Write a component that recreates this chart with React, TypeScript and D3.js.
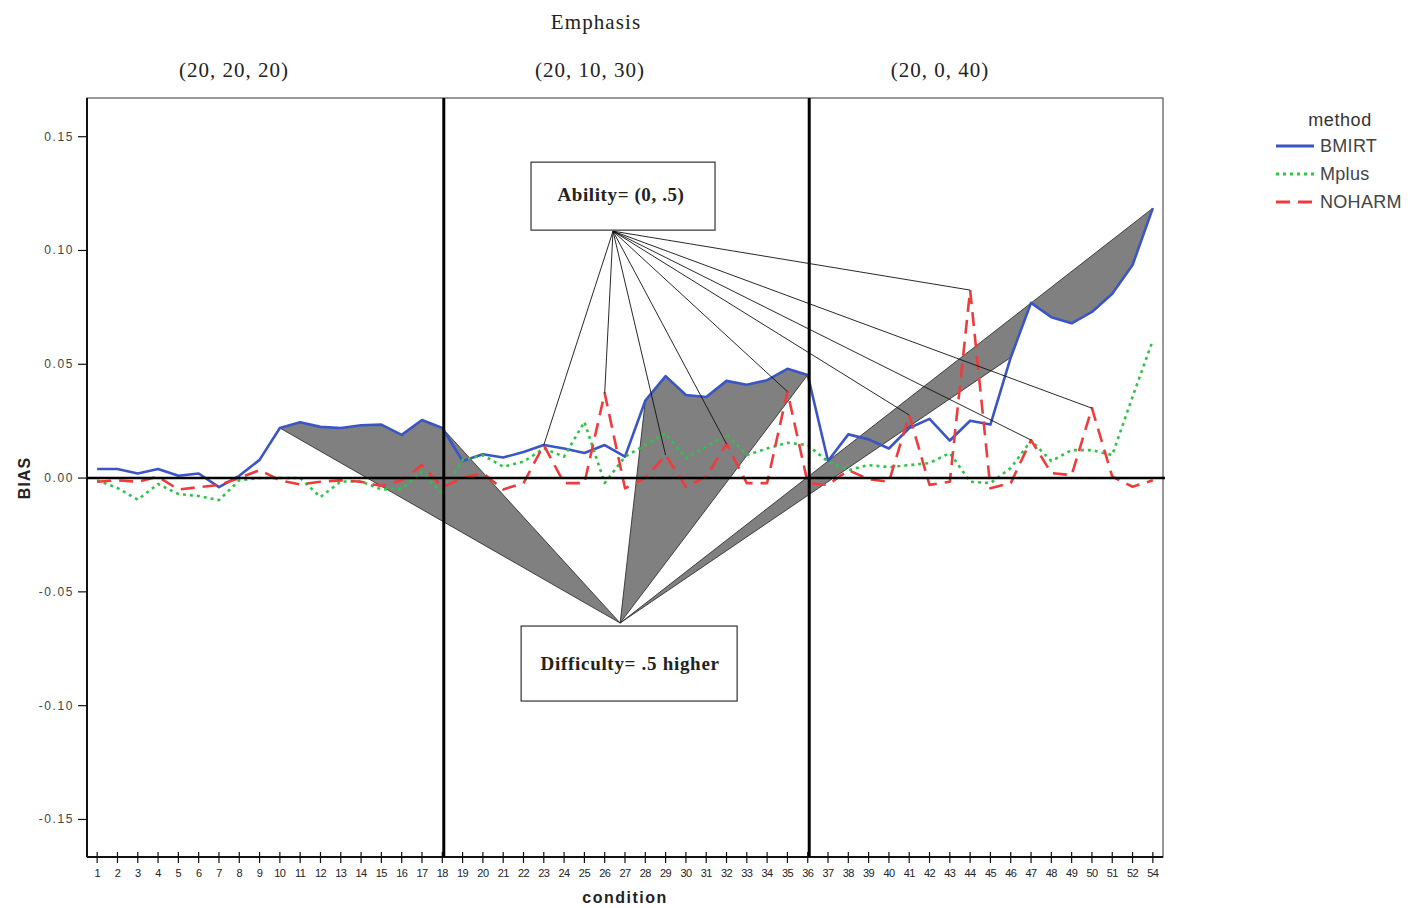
import React from "react";
import * as d3 from "d3";

// Simulation conditions (label 53 is not used in the study design)
const conditions = [
  "1","2","3","4","5","6","7","8","9","10","11","12","13","14","15","16","17","18",
  "19","20","21","22","23","24","25","26","27","28","29","30","31","32","33","34","35","36",
  "37","38","39","40","41","42","43","44","45","46","47","48","49","50","51","52","54",
];

const bmirt = [
  0.004, 0.004, 0.002, 0.004, 0.001, 0.002, -0.004, 0.001, 0.008, 0.022, 0.0245, 0.0225,
  0.022, 0.0232, 0.0235, 0.019, 0.0255, 0.022,
  0.0075, 0.0105, 0.009, 0.0115, 0.0145, 0.013, 0.011, 0.0145, 0.0094, 0.034, 0.0448, 0.0365,
  0.0356, 0.0427, 0.041, 0.043, 0.048, 0.0453,
  0.0075, 0.0192, 0.017, 0.013, 0.022, 0.026, 0.0165, 0.0252, 0.0235, 0.053, 0.077, 0.0707,
  0.068, 0.073, 0.081, 0.0936, 0.1186,
];

const mplus = [
  -0.001, -0.0044, -0.0095, -0.0026, -0.007, -0.0079, -0.0097, -0.001, 0.0, 0.0, 0.0, -0.0083,
  -0.0015, -0.0015, -0.005, -0.0047, 0.0027, -0.007,
  0.008, 0.01, 0.005, 0.0072, 0.013, 0.0094, 0.0247, -0.0022, 0.0094, 0.0145, 0.0197, 0.0088,
  0.0138, 0.0193, 0.0101, 0.013, 0.0155, 0.0145,
  0.0072, 0.0035, 0.0057, 0.0048, 0.0057, 0.0066, 0.011, -0.0016, -0.0022, 0.0044, 0.0165, 0.0075,
  0.0123, 0.0123, 0.0101, 0.0357, 0.0606,
];

const noharm = [
  -0.0016, -0.001, -0.0016, 0.0006, -0.005, -0.004, -0.003, 0.0, 0.0035, -0.001, -0.0028, -0.0016,
  -0.001, -0.0016, -0.0035, -0.001, 0.0057, -0.004,
  0.0, 0.0022, -0.005, -0.0022, 0.0145, -0.0022, -0.0022, 0.0373, -0.0045, 0.0, 0.0101, -0.0038,
  0.0006, 0.015, -0.0022, -0.0022, 0.038, -0.0022,
  -0.003, 0.0035, -0.0005, -0.0016, 0.0277, -0.003, -0.0016, 0.0826, -0.0045, -0.0022, 0.0167, 0.0022,
  0.0013, 0.0307, 0.0006, -0.0038, -0.001,
];

const yTicks = [0.15, 0.1, 0.05, 0.0, -0.05, -0.1, -0.15];
const emphasisLabels = ["(20, 20, 20)", "(20, 10, 30)", "(20, 0, 40)"];
const blockBreaks = ["18", "36"];

// NOHARM peaks linked to the ability callout
const abilityTargets = ["23", "26", "29", "32", "35", "41", "44", "47", "50"];
// BMIRT runs shaded toward the difficulty callout
const difficultySpans: [string, string][] = [["10", "18"], ["28", "36"], ["46", "54"]];
// Callout anchors: [fractional condition index, bias]
const abilityAnchor = [25.41, 0.1085];
const difficultyAnchor = [25.76, -0.0637];

const series = [
  { name: "BMIRT", values: bmirt, color: "#3b55c4", dash: null as string | null },
  { name: "Mplus", values: mplus, color: "#2ec44a", dash: "3,4" },
  { name: "NOHARM", values: noharm, color: "#ef3b3b", dash: "14,8" },
];

const W = 1414;
const H = 908;
const plot = { left: 87, right: 1163, top: 98, bottom: 857 };
// header label centres, in fractional condition index units
const headerCentres = [6.74, 24.28, 41.52];

export default function App() {
  const x = d3
    .scaleLinear()
    .domain([-0.5, conditions.length - 0.5])
    .range([plot.left, plot.right]);
  const y = d3.scaleLinear().domain([-0.1665, 0.167]).range([plot.bottom, plot.top]);
  const idx = (c: string) => conditions.indexOf(c);

  const line = d3
    .line<number>()
    .x((_, i) => x(i))
    .y((d) => y(d));

  const ax = x(abilityAnchor[0]);
  const ay = y(abilityAnchor[1]);
  const dx = x(difficultyAnchor[0]);
  const dy = y(difficultyAnchor[1]);

  const shaded = difficultySpans.map(([a, b]) => {
    const pts: [number, number][] = [[dx, dy]];
    for (let i = idx(a); i <= idx(b); i++) pts.push([x(i), y(bmirt[i])]);
    return pts;
  });

  const sans = "'Liberation Sans', Arial, sans-serif";
  const serif = "'Liberation Serif', 'Times New Roman', serif";

  return (
    <div style={{ position: "absolute", left: 0, top: 0 }}>
      <svg width={W} height={H} style={{ display: "block", background: "#fff" }}>
        {/* header */}
        <text x={596} y={29} textAnchor="middle" fontFamily={serif} fontSize={21} letterSpacing={1.1} fill="#222">
          Emphasis
        </text>
        {emphasisLabels.map((t, i) => (
          <text
            key={t}
            x={x(headerCentres[i])}
            y={77}
            textAnchor="middle"
            fontFamily={serif}
            fontSize={21}
            letterSpacing={1}
            fill="#222"
          >
            {t}
          </text>
        ))}

        {/* frame */}
        <rect
          x={plot.left}
          y={plot.top}
          width={plot.right - plot.left}
          height={plot.bottom - plot.top}
          fill="none"
          stroke="#555"
          strokeWidth={1.2}
        />
        <line x1={plot.left} x2={plot.left} y1={plot.top} y2={plot.bottom} stroke="#111" strokeWidth={2} />
        <line x1={plot.left} x2={plot.right} y1={plot.bottom} y2={plot.bottom} stroke="#111" strokeWidth={2} />

        {/* y axis */}
        {yTicks.map((t) => (
          <g key={t}>
            <line x1={plot.left - 9} x2={plot.left} y1={y(t)} y2={y(t)} stroke="#111" strokeWidth={1.2} />
            <text
              x={plot.left - 13}
              y={y(t) + 4}
              textAnchor="end"
              fontFamily={sans}
              fontSize={12}
              letterSpacing={1.6}
              fill="#444"
            >
              {t.toFixed(2)}
            </text>
          </g>
        ))}
        <text
          transform={`translate(30, ${y(0)}) rotate(-90)`}
          textAnchor="middle"
          fontFamily={sans}
          fontWeight="bold"
          fontSize={16}
          letterSpacing={1}
          fill="#222"
        >
          BIAS
        </text>

        {/* x axis */}
        {conditions.map((c, i) => (
          <g key={c}>
            <line x1={x(i)} x2={x(i)} y1={plot.bottom - 5} y2={plot.bottom + 6} stroke="#111" strokeWidth={1.2} />
            <text
              x={x(i)}
              y={plot.bottom + 20}
              textAnchor="middle"
              fontFamily={sans}
              fontSize={11}
              fill="#222"
              letterSpacing={-0.6}
            >
              {c}
            </text>
          </g>
        ))}
        <text
          x={625}
          y={903}
          textAnchor="middle"
          fontFamily={sans}
          fontWeight="bold"
          fontSize={16}
          letterSpacing={1.5}
          fill="#222"
        >
          condition
        </text>

        {/* shaded difficulty regions */}
        {shaded.map((pts, i) => (
          <polygon key={i} points={pts.map((p) => p.join(",")).join(" ")} fill="#808080" stroke="#222" strokeWidth={0.8} />
        ))}

        {/* series */}
        {series.map((s) => (
          <path
            key={s.name}
            d={line(s.values) ?? ""}
            fill="none"
            stroke={s.color}
            strokeWidth={2.6}
            strokeDasharray={s.dash ?? undefined}
            strokeLinejoin="round"
          />
        ))}

        {/* reference lines */}
        <line x1={plot.left} x2={plot.right + 2} y1={y(0)} y2={y(0)} stroke="#000" strokeWidth={2.5} />
        {blockBreaks.map((c) => (
          <line
            key={c}
            x1={x(idx(c)) + 1.5}
            x2={x(idx(c)) + 1.5}
            y1={plot.top}
            y2={plot.bottom}
            stroke="#000"
            strokeWidth={3}
          />
        ))}

        {/* ability callout */}
        {abilityTargets.map((c) => (
          <line
            key={c}
            x1={ax}
            y1={ay}
            x2={x(idx(c))}
            y2={y(noharm[idx(c)])}
            stroke="#111"
            strokeWidth={0.9}
          />
        ))}
        <rect x={ax - 82} y={ay - 69} width={184} height={68} fill="#fff" stroke="#333" strokeWidth={1.2} />
        <text
          x={ax + 8}
          y={ay - 30}
          textAnchor="middle"
          fontFamily={serif}
          fontWeight="bold"
          fontSize={19}
          letterSpacing={0.6}
          fill="#222"
        >
          Ability= (0, .5)
        </text>

        {/* difficulty callout */}
        <rect x={dx - 99} y={dy + 3} width={216} height={75} fill="#fff" stroke="#333" strokeWidth={1.2} />
        <text
          x={dx + 10}
          y={dy + 47}
          textAnchor="middle"
          fontFamily={serif}
          fontWeight="bold"
          fontSize={19}
          letterSpacing={0.7}
          fill="#222"
        >
          Difficulty= .5 higher
        </text>

        {/* legend */}
        <text x={1340} y={126} textAnchor="middle" fontFamily={sans} fontSize={18} letterSpacing={0.6} fill="#333">
          method
        </text>
        {series.map((s, i) => (
          <g key={s.name} transform={`translate(1276, ${146 + i * 28})`}>
            <line x1={0} x2={38} y1={0} y2={0} stroke={s.color} strokeWidth={3} strokeDasharray={s.dash ?? undefined} />
            <text x={44} y={6} fontFamily={sans} fontSize={18} letterSpacing={0.3} fill="#444">
              {s.name}
            </text>
          </g>
        ))}
      </svg>
    </div>
  );
}
